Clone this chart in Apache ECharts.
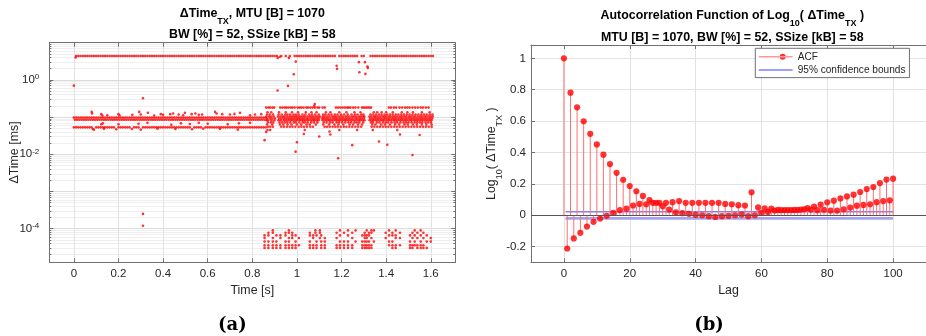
<!DOCTYPE html>
<html>
<head>
<meta charset="utf-8">
<script src="https://cdn.jsdelivr.net/npm/echarts@6.0.0/dist/echarts.min.js"></script>
<style>
html,body{margin:0;padding:0;background:#fff;}
#chart{width:926px;height:336px;}
</style>
</head>
<body>
<div id="chart"></div>
<script>
// ================= Panel (a): ΔTime_TX [ms] vs Time (times listed in ms) =================
const xTicksA = [0, 0.2, 0.4, 0.6, 0.8, 1, 1.2, 1.4, 1.6];

// upper periodic row (~4.4 ms)
const topLevel = 4.4;
const topMs = [10,20,30,40,50,60,70,80,90,100,110,120,130,140,150,160,170,180,190,200,210,220,230,240,250,260,270,280,290,300,310,320,330,340,350,360,370,380,390,400,410,420,430,440,450,460,470,480,490,500,510,520,530,540,550,560,570,580,590,600,610,620,630,640,650,660,670,680,690,700,710,720,730,740,750,760,770,780,790,800,810,820,830,840,850,860,870,880,890,900,910,930,950,968,990,1000,1010,1020,1030,1040,1050,1060,1070,1080,1090,1100,1110,1120,1130,1140,1150,1160,1170,1190,1200,1210,1220,1230,1240,1250,1260,1270,1290,1300,1330,1340,1350,1360,1370,1380,1390,1400,1410,1420,1430,1440,1450,1460,1470,1480,1490,1500,1510,1520,1530,1540,1550,1560,1570,1580,1590,1600,1610];

// main band before 0.86 s (two sub-rows make the thick band)
const bandHiLevel = 0.097;
const bandHiMs = [0,10,20,30,40,50,60,70,80,90,100,110,120,130,140,150,160,170,180,190,200,210,220,230,240,250,260,270,280,290,300,310,320,330,340,350,360,370,380,390,400,410,420,430,440,450,460,470,480,490,500,510,520,530,540,550,560,570,580,590,600,610,620,630,640,650,660,670,680,690,700,710,720,730,740,750,760,770,780,790,800,810,820,830,840,850,860];
const bandLoLevel = 0.085;
const bandLoMs = [5,15,25,35,45,55,65,75,85,95,105,115,125,135,145,155,165,175,185,195,205,215,225,235,245,255,265,275,285,295,305,315,325,335,345,355,365,375,385,395,405,415,425,435,445,455,465,475,485,495,505,515,525,535,545,555,565,575,585,595,605,615,625,635,645,655,665,675,685,695,705,715,725,735,745,755,765,775,785,795,805,815,825,835,845,855];

// lower row before 0.86 s (~0.053 ms)
const lowLineLevel = 0.053;
const lowLineMs = [0,10,20,30,40,50,60,70,80,100,110,120,130,140,150,160,170,180,200,210,220,230,240,250,270,280,290,310,320,330,340,350,360,370,380,390,400,410,420,430,440,450,460,470,480,490,500,510,520,540,550,560,570,590,600,610,620,630,640,650,660,670,680,690,700,710,720,730,740,750,760,770,780,790,800,810,820,830,840,850,860];

// isolated points around the band before 0.86 s: [ms, value]
const sparsePts = [[80,0.138],[82,0.125],[123,0.12],[128,0.11],[150,0.112],[200,0.12],[205,0.11],[262,0.115],[293,0.138],[300,0.118],[332,0.13],[360,0.11],[390,0.12],[400,0.115],[432,0.12],[445,0.125],[470,0.118],[490,0.112],[498,0.13],[528,0.12],[545,0.125],[560,0.115],[575,0.118],[633,0.138],[640,0.125],[665,0.12],[700,0.118],[720,0.122],[745,0.13],[790,0.112],[812,0.118],[840,0.12],
 [123,0.064],[130,0.068],[200,0.064],[290,0.066],[330,0.07],[437,0.062],[480,0.068],[520,0.065],[560,0.07],[600,0.066],[690,0.064],[740,0.068],[790,0.07],
 [85,0.048],[90,0.046],[135,0.049],[190,0.047],[260,0.048],[300,0.046],[375,0.049],[455,0.048],[530,0.047],[580,0.049],[655,0.048],[735,0.046]];

// dense cloud after 0.86 s: one list of times per level
const cloudLevels = [0.18, 0.135, 0.118, 0.104, 0.092, 0.082, 0.072, 0.063, 0.055];
const cloudMs = [
 [862,872,880,890,898,925,935,945,953,962,972,980,990,1003,1012,1020,1030,1042,1050,1060,1070,1080,1092,1100,1115,1125,1175,1185,1195,1205,1215,1225,1232,1240,1252,1262,1275,1292,1300,1308,1316,1324,1332,1412,1422,1435,1445,1460,1472,1485,1495,1505,1518,1530,1542,1555,1565,1578,1590],
 [868,885,920,950,978,1005,1040,1065,1088,1130,1150,1190,1222,1258,1285,1345,1360,1380,1400,1430,1470,1495,1520,1560,1595],
 [866,878,893,918,932,948,958,970,985,996,1008,1025,1038,1055,1068,1082,1098,1118,1128,1142,1155,1170,1182,1198,1212,1228,1245,1260,1272,1288,1298,1330,1342,1355,1368,1380,1393,1405,1418,1430,1443,1455,1468,1480,1493,1505,1518,1532,1545,1558,1570,1582,1596,1608],
 [863,875,884,896,915,926,937,944,955,966,975,983,992,1000,1010,1018,1028,1036,1047,1058,1066,1075,1086,1094,1103,1116,1124,1135,1146,1158,1167,1176,1187,1196,1206,1218,1226,1236,1248,1256,1266,1278,1286,1296,1302,1325,1334,1346,1352,1362,1373,1384,1392,1400,1411,1420,1431,1440,1450,1461,1470,1481,1490,1502,1511,1522,1530,1541,1552,1561,1572,1580,1591,1600,1609],
 [867,880,890,902,920,930,940,950,960,968,978,988,998,1006,1015,1024,1033,1044,1052,1062,1072,1080,1090,1099,1113,1121,1131,1140,1150,1162,1172,1180,1191,1201,1210,1220,1230,1240,1250,1262,1270,1281,1290,1300,1328,1338,1348,1357,1366,1376,1388,1396,1406,1415,1426,1436,1445,1456,1466,1475,1486,1496,1506,1516,1526,1536,1546,1556,1566,1576,1586,1596,1606],
 [864,871,886,899,917,928,942,952,963,973,982,993,1002,1013,1022,1031,1040,1050,1061,1070,1078,1088,1097,1115,1126,1137,1145,1155,1165,1175,1185,1194,1204,1214,1223,1233,1244,1254,1264,1276,1284,1294,1303,1326,1336,1344,1354,1364,1374,1382,1390,1402,1412,1422,1433,1442,1452,1463,1473,1483,1492,1504,1513,1524,1534,1543,1554,1563,1574,1584,1594,1603],
 [870,883,894,922,934,946,957,970,986,995,1011,1026,1035,1048,1064,1077,1092,1120,1133,1148,1160,1178,1189,1203,1217,1231,1243,1258,1268,1280,1297,1332,1341,1358,1370,1386,1398,1409,1424,1438,1449,1464,1478,1489,1500,1514,1528,1539,1551,1562,1577,1589,1601],
 [866,889,924,939,958,976,1000,1019,1043,1057,1085,1118,1144,1168,1186,1208,1236,1252,1274,1292,1338,1352,1378,1395,1417,1440,1458,1482,1497,1520,1538,1560,1580,1604],
 [870,880,892,930,942,955,968,980,993,1008,1020,1032,1045,1060,1072,1124,1135,1147,1160,1172,1183,1196,1210,1222,1235,1248,1262,1275,1288,1335,1347,1360,1372,1385,1398,1410,1423,1436,1448,1461,1474,1487,1500,1513,1526,1539,1552,1565,1578,1591,1604]
];

// bursts near 1e-4 ms: one list of times per level
const tinyLevels = [9e-5, 7.8e-5, 6.6e-5, 5.6e-5, 4.5e-5, 3.6e-5, 3.05e-5];
const tinyMs = [
 [892,964,1083,1103,1193,1229,1263,1313,1334,1345,1413,1443,1528,1555],
 [872,892,949,964,979,1058,1083,1103,1178,1211,1248,1304,1323,1334,1398,1428,1462,1518,1540,1567],
 [855,872,908,926,949,979,994,1058,1073,1088,1109,1193,1229,1293,1304,1313,1323,1413,1428,1443,1507,1528,1555,1582],
 [855,892,926,964,979,1009,1073,1103,1125,1178,1248,1304,1313,1334,1398,1443,1462,1518,1540,1567,1600],
 [855,872,892,908,949,964,994,1058,1088,1109,1125,1193,1211,1229,1263,1293,1304,1313,1323,1345,1413,1428,1507,1528,1555,1582,1600],
 [855,872,892,908,926,949,964,979,994,1009,1058,1073,1088,1109,1125,1178,1193,1211,1229,1248,1293,1304,1313,1323,1334,1413,1428,1443,1462,1507,1518,1528,1540,1555,1567],
 [855,872,892,908,926,949,964,979,994,1058,1073,1088,1109,1125,1178,1193,1211,1229,1248,1293,1304,1313,1323,1334,1428,1443,1507,1518,1540,1555,1567,1582]
];

// isolated outliers: [ms, value]
const outlierPts = [[0,0.70],[8,4.0],[310,0.32],[310,2.5e-4],[310,1.2e-4],
 [855,0.024],[862,0.04],[868,0.045],[880,0.045],[913,0.52],[914,3.9],[923,4.2],[960,0.69],[964,3.9],
 [986,1.42],[995,3.1],[994,0.0118],[1000,0.021],[1031,0.035],[1035,0.045],[1080,0.226],[1078,0.2],
 [1100,0.03],[1146,0.041],[1150,0.034],[1178,2.4],[1180,1.98],[1185,0.0078],[1190,0.045],[1248,0.0176],
 [1270,0.045],[1278,3.0],[1280,1.6],[1305,3.0],[1307,1.45],[1316,2.3],[1318,2.1],[1340,0.045],
 [1368,0.022],[1405,0.018],[1450,0.045],[1462,0.034],[1518,0.0096],[1550,0.033]];

// ================= Panel (b): ACF of log10(ΔTime_TX), lag = index =================
const acf = [
 1.0, -0.212, 0.781, -0.148, 0.688, -0.112, 0.599, -0.072, 0.519, -0.042,
 0.451, -0.021, 0.386, -0.004, 0.326, 0.015, 0.270, 0.033, 0.226, 0.042,
 0.186, 0.062, 0.153, 0.072, 0.123, 0.070, 0.096, 0.079, 0.079, 0.079,
 0.057, 0.079, 0.036, 0.083, 0.019, 0.090, 0.013, 0.079, 0.009, 0.079,
 0.002, 0.079, 0.000, 0.079, -0.006, 0.079, -0.011, 0.079, -0.006, 0.072,
 -0.004, 0.070, 0.000, 0.064, 0.004, 0.062, -0.006, 0.146, 0.000, 0.050,
 0.015, 0.044, 0.021, 0.042, 0.030, 0.034, 0.032, 0.033, 0.033, 0.033,
 0.034, 0.034, 0.036, 0.038, 0.045, 0.036, 0.055, 0.032, 0.068, 0.035,
 0.082, 0.030, 0.093, 0.030, 0.107, 0.038, 0.120, 0.049, 0.131, 0.061,
 0.148, 0.066, 0.167, 0.070, 0.180, 0.083, 0.205, 0.090, 0.227, 0.095,
 0.233
];
const confLagRange = [0.5, 100];
const confUpper = 0.0216;
const confLower = -0.02;
const xTicksB = [0, 20, 40, 60, 80, 100];
const yTicksB = [-0.2, 0, 0.2, 0.4, 0.6, 0.8, 1];

// ================= build =================
const FONT = '"Liberation Sans", Arial, Helvetica, sans-serif';
const TXT = '#262626';
const AX = '#707070';
const GRID = '#e2e2e2';

function rowPts(list, level) { return list.map(ms => [ms / 1000, level]); }
function pairPts(list) { return list.map(p => [p[0] / 1000, p[1]]); }

const dataA = [].concat(
  rowPts(topMs, topLevel),
  rowPts(bandHiMs, bandHiLevel),
  rowPts(bandLoMs, bandLoLevel),
  rowPts(lowLineMs, lowLineLevel),
  pairPts(sparsePts),
  ...cloudMs.map((l, i) => rowPts(l, cloudLevels[i])),
  ...tinyMs.map((l, i) => rowPts(l, tinyLevels[i])),
  pairPts(outlierPts)
);
const acfPts = acf.map((v, i) => [i, v]);

const richSub = {
  n: { fontSize: 12.4, color: TXT, fontFamily: FONT, lineHeight: 18.5, verticalAlign: 'top' },
  s: { fontSize: 9, color: TXT, fontFamily: FONT, lineHeight: 10, verticalAlign: 'bottom' }
};
const richTitle = {
  b: { fontSize: 12.4, fontWeight: 'bold', color: '#000', fontFamily: FONT, lineHeight: 18.5, verticalAlign: 'top' },
  s: { fontSize: 9, fontWeight: 'bold', color: '#000', fontFamily: FONT, lineHeight: 10, verticalAlign: 'bottom' }
};

function logLabel(v) {
  const e = Math.round(Math.log10(v));
  if (Math.abs(Math.log10(v) - e) > 1e-6 || e % 2 !== 0) return '';
  return '{m|10}{p|' + e + '}';
}

const chart = echarts.init(document.getElementById('chart'), null, { renderer: 'canvas' });
chart.setOption({
  backgroundColor: '#fff',
  animation: false,
  textStyle: { fontFamily: FONT },
  title: [
    { text: '{b|ΔTime}{s|TX}{b|, MTU [B] = 1070}', left: 252.3, top: 7.3, textAlign: 'center', textVerticalAlign: 'top', padding: 0, textStyle: { rich: richTitle } },
    { text: 'BW [%] = 52, SSize [kB] = 58', left: 252.3, top: 28, textAlign: 'center', textVerticalAlign: 'top', padding: 0, textStyle: { fontSize: 12.4, fontWeight: 'bold', color: '#000', fontFamily: FONT, lineHeight: 14 } },
    { text: '{b|Autocorrelation Function of Log}{s|10}{b|( ΔTime}{s|TX}{b| )}', left: 732.3, top: 9.8, textAlign: 'center', textVerticalAlign: 'top', padding: 0, textStyle: { rich: richTitle } },
    { text: 'MTU [B] = 1070, BW [%] = 52, SSize [kB] = 58', left: 732.3, top: 30.5, textAlign: 'center', textVerticalAlign: 'top', padding: 0, textStyle: { fontSize: 12.4, fontWeight: 'bold', color: '#000', fontFamily: FONT, lineHeight: 14 } },
    { text: '(a)', left: 232.3, top: 325, textAlign: 'center', textVerticalAlign: 'middle', padding: 0, textStyle: { fontSize: 18, fontWeight: 'bold', color: '#000', fontFamily: '"DejaVu Serif", serif' } },
    { text: '(b)', left: 709, top: 325, textAlign: 'center', textVerticalAlign: 'middle', padding: 0, textStyle: { fontSize: 18, fontWeight: 'bold', color: '#000', fontFamily: '"DejaVu Serif", serif' } }
  ],
  legend: {
    orient: 'vertical', left: 755.3, top: 48.3,
    backgroundColor: '#fff', borderColor: '#4d4d4d', borderWidth: 0.8, borderRadius: 0,
    padding: [3, 4, 2, 3.4], itemGap: 2.3, itemWidth: 34, itemHeight: 8,
    textStyle: { fontSize: 10.1, color: TXT, fontFamily: FONT, lineHeight: 11 },
    data: [
      { name: 'ACF', icon: 'path://M0,3.6H34V4.4H0Z M21,4A3,3 0 1,0 27,4A3,3 0 1,0 21,4Z' },
      { name: '95% confidence bounds', icon: 'path://M0,0H34V1H0Z' }
    ]
  },
  grid: [
    { left: 49.3, top: 42.7, width: 406, height: 219.6, show: false },
    { left: 531, top: 45, width: 402.5, height: 217.3, show: false }
  ],
  xAxis: [
    {
      gridIndex: 0, type: 'value', min: -0.11, max: 1.71, position: 'bottom',
      name: 'Time [s]', nameLocation: 'middle', nameGap: 21.5,
      nameTextStyle: { fontSize: 12.4, color: TXT, fontFamily: FONT },
      axisLine: { show: true, onZero: false, lineStyle: { color: AX, width: 1 } },
      axisTick: { show: true, inside: true, length: 4, customValues: xTicksA, lineStyle: { color: AX } },
      axisLabel: { customValues: xTicksA, fontSize: 11.5, color: TXT, margin: 5.5, fontFamily: FONT },
      splitLine: { show: true, lineStyle: { color: GRID, width: 1 } }
    },
    {
      gridIndex: 0, type: 'value', min: -0.11, max: 1.71, position: 'top',
      axisLine: { show: true, onZero: false, lineStyle: { color: AX, width: 1 } },
      axisTick: { show: true, inside: true, length: 4, customValues: xTicksA, lineStyle: { color: AX } },
      axisLabel: { show: false }, splitLine: { show: false }
    },
    {
      gridIndex: 1, type: 'value', min: -10, max: 110, position: 'bottom',
      name: 'Lag', nameLocation: 'middle', nameGap: 21.5,
      nameTextStyle: { fontSize: 12.4, color: TXT, fontFamily: FONT },
      axisLine: { show: true, onZero: false, lineStyle: { color: AX, width: 1 } },
      axisTick: { show: true, inside: true, length: 4, customValues: xTicksB, lineStyle: { color: AX } },
      axisLabel: { customValues: xTicksB, fontSize: 11.5, color: TXT, margin: 5.5, fontFamily: FONT },
      splitLine: { show: true, lineStyle: { color: GRID, width: 1 } }
    },
    {
      gridIndex: 1, type: 'value', min: -10, max: 110, position: 'top',
      axisLine: { show: true, onZero: false, lineStyle: { color: AX, width: 1 } },
      axisTick: { show: true, inside: true, length: 4, customValues: xTicksB, lineStyle: { color: AX } },
      axisLabel: { show: false }, splitLine: { show: false }
    }
  ],
  yAxis: [
    {
      gridIndex: 0, type: 'log', logBase: 10, min: 1.25e-5, max: 10, position: 'left',
      name: 'ΔTime [ms]', nameLocation: 'middle', nameRotate: 90, nameGap: 29, nameMoveOverlap: false,
      nameTextStyle: { fontSize: 12.4, color: TXT, fontFamily: FONT },
      axisLine: { show: true, onZero: false, lineStyle: { color: AX, width: 1 } },
      axisTick: { show: true, inside: true, length: 4, lineStyle: { color: AX } },
      minorTick: { show: true, splitNumber: 9, length: 2, lineStyle: { color: AX } },
      axisLabel: {
        formatter: logLabel, margin: 10, showMinLabel: false, showMaxLabel: false,
        rich: {
          m: { fontSize: 11.5, color: TXT, fontFamily: FONT, lineHeight: 14, verticalAlign: 'middle' },
          p: { fontSize: 8, color: TXT, fontFamily: FONT, lineHeight: 9, verticalAlign: 'top' }
        }
      },
      splitLine: { show: true, lineStyle: { color: '#dcdcdc', width: 1 } },
      minorSplitLine: { show: true, lineStyle: { color: '#efefef', width: 1 } }
    },
    {
      gridIndex: 0, type: 'log', logBase: 10, min: 1.25e-5, max: 10, position: 'right',
      axisLine: { show: true, onZero: false, lineStyle: { color: AX, width: 1 } },
      axisTick: { show: true, inside: true, length: 4, lineStyle: { color: AX } },
      minorTick: { show: true, splitNumber: 9, length: 2, lineStyle: { color: AX } },
      axisLabel: { show: false }, splitLine: { show: false }
    },
    {
      gridIndex: 1, type: 'value', min: -0.3, max: 1.085, position: 'left',
      name: '{n|Log}{s|10}{n|( ΔTime}{s|TX}{n| )}', nameLocation: 'middle', nameRotate: 90, nameGap: 27, nameMoveOverlap: false,
      nameTextStyle: { rich: richSub },
      axisLine: { show: true, onZero: false, lineStyle: { color: AX, width: 1 } },
      axisTick: { show: true, inside: true, length: 4, customValues: yTicksB, lineStyle: { color: AX } },
      axisLabel: { customValues: yTicksB, fontSize: 11.5, color: TXT, margin: 5, fontFamily: FONT },
      splitLine: { show: true, lineStyle: { color: GRID, width: 1 } }
    }
  ],
  series: [
    {
      name: 'ΔTime_TX', type: 'scatter', xAxisIndex: 0, yAxisIndex: 0,
      symbol: 'circle', symbolSize: 2.6, data: dataA,
      itemStyle: { color: '#ff0000' }, silent: true, large: false
    },
    {
      name: 'ACF', type: 'scatter', xAxisIndex: 2, yAxisIndex: 2, z: 4,
      symbol: 'circle', symbolSize: 6.2, data: acfPts,
      itemStyle: { color: '#ff0000' }
    },
    {
      name: 'ACF', type: 'custom', xAxisIndex: 2, yAxisIndex: 2, z: 3,
      data: acfPts,
      renderItem: function (params, api) {
        const p0 = api.coord([api.value(0), 0]);
        const p1 = api.coord([api.value(0), api.value(1)]);
        return { type: 'line', shape: { x1: p0[0], y1: p0[1], x2: p1[0], y2: p1[1] },
                 style: { stroke: '#ff6f6f', lineWidth: 1 } };
      },
      markLine: {
        silent: true, symbol: 'none', label: { show: false },
        lineStyle: { color: '#555', width: 1, type: 'solid' },
        data: [{ yAxis: 0 }]
      }
    },
    {
      name: '95% confidence bounds', type: 'line', xAxisIndex: 2, yAxisIndex: 2, z: 2,
      symbol: 'none', data: confLagRange.map(l => [l, confUpper]),
      lineStyle: { color: '#4040ff', width: 1 }, itemStyle: { color: '#4040ff' }
    },
    {
      name: '95% confidence bounds', type: 'line', xAxisIndex: 2, yAxisIndex: 2, z: 2,
      symbol: 'none', data: confLagRange.map(l => [l, confLower]),
      lineStyle: { color: '#a3a3f2', width: 2.6 }, itemStyle: { color: '#a3a3f2' }
    }
  ]
});
</script>
</body>
</html>
